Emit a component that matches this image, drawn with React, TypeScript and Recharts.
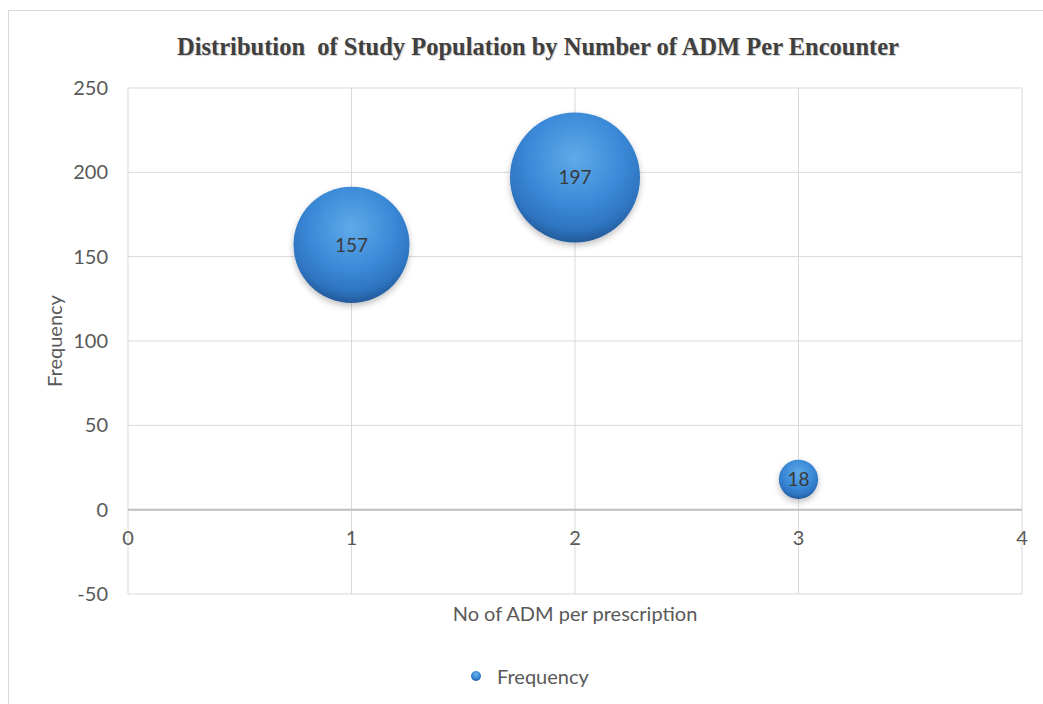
import React from 'react';
import {
  ScatterChart, Scatter, XAxis, YAxis, ZAxis, CartesianGrid,
  ReferenceLine, LabelList, Legend,
} from 'recharts';

// values
const admPerPrescription = [1, 2, 3];
const frequency = [157, 197, 18];
const xTicks = [0, 1, 2, 3, 4];
const yTicks = [-50, 0, 50, 100, 150, 200, 250];

const data = admPerPrescription.map((x, i) => ({ x, y: frequency[i], z: frequency[i] }));

const AXIS_FONT = 'Lato, "Open Sans", sans-serif';
const GREY = '#595959';
const MAX_R = 65;

// x tick labels sit just under the zero line, not at the bottom of the plot
const XTick = ({ x, y, payload }: any) => (
  <text x={x} y={y - 57} textAnchor="middle" fill={GREY} fontSize={20} fontFamily={AXIS_FONT}>
    {payload.value}
  </text>
);

const LegendContent = () => (
  <div style={{ display: 'flex', alignItems: 'center', fontFamily: AXIS_FONT, fontSize: 20, color: GREY }}>
    <svg width={12} height={12} style={{ marginRight: 15 }}>
      <circle cx={6} cy={6} r={5} fill="url(#legendGrad)" />
      <defs>
        <radialGradient id="legendGrad" cx="50%" cy="35%" r="65%">
          <stop offset="0%" stopColor="#6cb4ee" />
          <stop offset="70%" stopColor="#3080d0" />
          <stop offset="100%" stopColor="#1f5a9e" />
        </radialGradient>
      </defs>
    </svg>
    Frequency
  </div>
);

export default function App() {
  return (
    <div style={{ position: 'fixed', left: 0, top: 0, width: 1043, height: 704, background: '#fff', overflow: 'hidden' }}>
      <div style={{ position: 'absolute', left: 8, top: 10, width: 1100, height: 800, border: '1px solid #d9d9d9' }} />
      <div style={{
        position: 'absolute', left: 0, top: 33, width: 1076, textAlign: 'center',
        fontFamily: '"Liberation Serif", "Times New Roman", serif', fontWeight: 'bold', fontSize: 24.5,
        color: '#404040', textShadow: '1px 1px 1px #ccc', whiteSpace: 'pre',
      }}>
        {'Distribution  of Study Population by Number of ADM Per Encounter'}
      </div>
      <div style={{ position: 'absolute', left: 0, top: 0 }}>
        <ScatterChart width={1043} height={704} margin={{ top: 88, right: 21, bottom: 46, left: 48 }}>
          <defs>
            <radialGradient id="bubbleGrad" cx="50%" cy="35%" r="65%">
              <stop offset="0%" stopColor="#60aae8" />
              <stop offset="55%" stopColor="#3b8ad8" />
              <stop offset="85%" stopColor="#2e74c0" />
              <stop offset="100%" stopColor="#235a9a" />
            </radialGradient>
            <filter id="bubbleShadow" x="-30%" y="-30%" width="160%" height="170%">
              <feDropShadow dx="0" dy="3" stdDeviation="3" floodColor="#000" floodOpacity="0.25" />
            </filter>
          </defs>
          <CartesianGrid stroke="#d9d9d9" horizontalValues={yTicks} verticalValues={xTicks} />
          <XAxis
            type="number" dataKey="x" domain={[0, 4]} ticks={xTicks} allowDataOverflow
            axisLine={false} tickLine={false} height={40} tick={<XTick />}
            label={{ value: 'No of ADM per prescription', position: 'insideTop', offset: 13, fill: GREY, fontSize: 20, fontFamily: AXIS_FONT }}
          />
          <YAxis
            type="number" dataKey="y" domain={[-50, 250]} ticks={yTicks} allowDataOverflow
            axisLine={false} tickLine={false} width={80} tickMargin={14}
            tick={{ fill: GREY, fontSize: 20, fontFamily: AXIS_FONT }}
            label={{ value: 'Frequency', angle: -90, position: 'insideLeft', offset: 7, fill: GREY, fontSize: 20, fontFamily: AXIS_FONT, style: { textAnchor: 'middle' } }}
          />
          <ZAxis type="number" dataKey="z" domain={[0, 197]} range={[0, Math.PI * MAX_R * MAX_R]} />
          <ReferenceLine y={0} stroke="#bfbfbf" strokeWidth={2} />
          <Legend layout="vertical" align="center" verticalAlign="bottom" content={<LegendContent />}
            wrapperStyle={{ top: 664, left: 470, bottom: 'auto', width: 'auto' }} />
          <Scatter name="Frequency" data={data} fill="url(#bubbleGrad)" isAnimationActive={false}
            style={{ filter: 'url(#bubbleShadow)' }}>
            <LabelList dataKey="y" position="center" fill="#3a3a3a" fontSize={19} fontFamily={AXIS_FONT} />
          </Scatter>
        </ScatterChart>
      </div>
    </div>
  );
}
